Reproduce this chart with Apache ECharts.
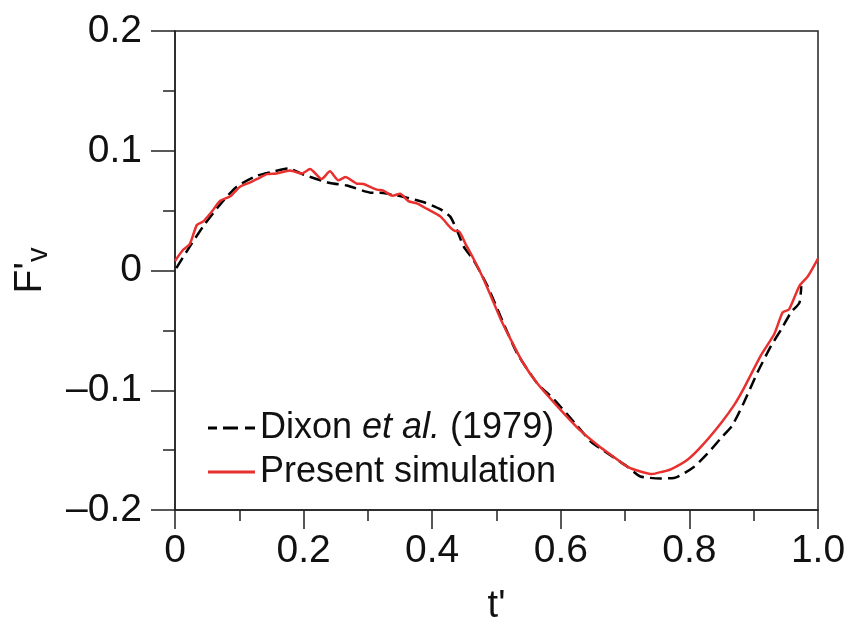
<!DOCTYPE html>
<html>
<head>
<meta charset="utf-8">
<script src="https://cdn.jsdelivr.net/npm/echarts@6/dist/echarts.min.js"></script>
<style>
  html, body { margin: 0; padding: 0; background: #fff; }
  #chart { width: 854px; height: 631px; }
</style>
</head>
<body>
<div id="chart"></div>
<script>
// Dixon et al. (1979) - dashed black
const tDixon = [0.002, 0.023, 0.044, 0.070, 0.096, 0.127, 0.148, 0.176, 0.200, 0.241,
  0.267, 0.304, 0.324, 0.356, 0.387, 0.413, 0.428, 0.439, 0.449, 0.465,
  0.486, 0.506, 0.532, 0.563, 0.589, 0.626, 0.647, 0.667, 0.704, 0.724,
  0.755, 0.776, 0.807, 0.828, 0.849, 0.866, 0.885, 0.906, 0.927, 0.943,
  0.958, 0.971, 0.974];
const fDixon = [0.002, 0.020, 0.037, 0.055, 0.070, 0.079, 0.082, 0.0853, 0.080, 0.073,
  0.071, 0.065, 0.0647, 0.0614, 0.057, 0.051, 0.045, 0.033, 0.020, 0.008,
  -0.013, -0.038, -0.069, -0.094, -0.1075, -0.130, -0.143, -0.1505, -0.164, -0.172,
  -0.1736, -0.1733, -0.164, -0.153, -0.140, -0.130, -0.110, -0.085, -0.063, -0.049,
  -0.035, -0.027, -0.013];

// Present simulation - red
const tSim = [0, 0.013, 0.023, 0.034, 0.044, 0.057, 0.070, 0.086, 0.101, 0.117,
  0.130, 0.143, 0.158, 0.179, 0.197, 0.210, 0.228, 0.241, 0.254, 0.265,
  0.283, 0.293, 0.314, 0.324, 0.338, 0.350, 0.363, 0.376, 0.392, 0.413,
  0.428, 0.436, 0.441, 0.452, 0.465, 0.478, 0.491, 0.506, 0.522, 0.540,
  0.563, 0.594, 0.631, 0.660, 0.678, 0.704, 0.725, 0.742, 0.758, 0.771,
  0.797, 0.820, 0.849, 0.870, 0.885, 0.911, 0.932, 0.945, 0.955, 0.971,
  0.984, 1.0];
const fSim = [0.008, 0.0175, 0.022, 0.038, 0.041, 0.049, 0.058, 0.062, 0.070, 0.0736,
  0.077, 0.0805, 0.081, 0.0836, 0.081, 0.0847, 0.0764, 0.0828, 0.0753, 0.078,
  0.0725, 0.0722, 0.0675, 0.0667, 0.0625, 0.064, 0.058, 0.056, 0.0514, 0.045,
  0.036, 0.033, 0.033, 0.022, 0.009, -0.005, -0.021, -0.040, -0.0575, -0.076,
  -0.094, -0.113, -0.134, -0.147, -0.154, -0.164, -0.168, -0.170, -0.168, -0.166,
  -0.158, -0.146, -0.1275, -0.112, -0.098, -0.071, -0.053, -0.035, -0.0325, -0.013,
  -0.005, 0.010];

const xTicks = [0, 0.2, 0.4, 0.6, 0.8, 1.0];
const yTicks = [-0.2, -0.1, 0, 0.1, 0.2];

const FONT = "Liberation Sans";
const AXIS_COLOR = "#222";
const RED = "#e8302e";

function zip(a, b) {
  return a.map((v, i) => [v, b[i]]);
}

const chart = echarts.init(document.getElementById("chart"));
chart.setOption({
  animation: false,
  backgroundColor: "#fff",
  grid: {
    left: 175,
    right: 36,
    top: 31,
    bottom: 120,
    show: true,
    borderColor: AXIS_COLOR,
    borderWidth: 1.5,
  },
  legend: {
    orient: "vertical",
    left: 203,
    top: 404,
    itemWidth: 47,
    itemHeight: 3,
    itemGap: 6,
    textStyle: {
      fontFamily: FONT,
      fontSize: 36,
      color: "#111",
      lineHeight: 38,
      rich: {
        n: { fontFamily: FONT, fontSize: 36, color: "#111" },
        i: { fontFamily: FONT, fontSize: 36, color: "#111", fontStyle: "italic" },
      },
    },
    formatter: function (name) {
      if (name === "Dixon") return "{n|Dixon }{i|et al.}{n| (1979)}";
      return "{n|" + name + "}";
    },
    data: [
      { name: "Dixon", icon: "path://M0,0h9v3h-9z M15,0h15v3h-15z M37,0h10v3h-10z" },
      { name: "Present simulation", icon: "path://M0,0h47v3h-47z" },
    ],
  },
  xAxis: {
    type: "value",
    min: 0,
    max: 1,
    interval: 0.2,
    name: "t'",
    nameLocation: "middle",
    nameGap: 78,
    nameTextStyle: { fontFamily: FONT, fontSize: 38, color: "#111" },
    axisLine: { show: true, onZero: false, lineStyle: { color: AXIS_COLOR, width: 1.5 } },
    axisTick: { show: true, length: 19, lineStyle: { color: AXIS_COLOR, width: 1.5 } },
    minorTick: { show: true, splitNumber: 2, length: 11, lineStyle: { color: AXIS_COLOR, width: 1.5 } },
    splitLine: { show: false },
    axisLabel: {
      margin: 22,
      fontFamily: FONT,
      fontSize: 39,
      color: "#111",
      formatter: function (v) {
        return v === 0 ? "0" : v.toFixed(1);
      },
    },
  },
  yAxis: {
    type: "value",
    min: -0.2,
    max: 0.2,
    interval: 0.1,
    name: "{f|F'}{s|v}",
    nameLocation: "middle",
    nameGap: 122,
    nameRotate: 90,
    nameTextStyle: {
      rich: {
        f: { fontFamily: FONT, fontSize: 39, color: "#111" },
        s: { fontFamily: FONT, fontSize: 29, color: "#111", padding: [16, 0, 0, 0] },
      },
    },
    axisLine: { show: true, onZero: false, lineStyle: { color: AXIS_COLOR, width: 1.5 } },
    axisTick: { show: true, length: 24, lineStyle: { color: AXIS_COLOR, width: 1.5 } },
    minorTick: { show: true, splitNumber: 2, length: 12, lineStyle: { color: AXIS_COLOR, width: 1.5 } },
    splitLine: { show: false },
    axisLabel: {
      margin: 33,
      fontFamily: FONT,
      fontSize: 39,
      color: "#111",
      formatter: function (v) {
        const r = Math.round(v * 10) / 10;
        if (r === 0) return "0";
        return (r < 0 ? "\u2013" : "") + Math.abs(r).toFixed(1);
      },
    },
  },
  series: [
    {
      name: "Dixon",
      type: "line",
      data: zip(tDixon, fDixon),
      symbol: "none",
      smooth: 0.2,
      lineStyle: { color: "#000", width: 2.5, type: [12, 6] },
      itemStyle: { color: "#000" },
      z: 2,
    },
    {
      name: "Present simulation",
      type: "line",
      data: zip(tSim, fSim),
      symbol: "none",
      smooth: 0.2,
      lineStyle: { color: RED, width: 2.5 },
      itemStyle: { color: RED },
      z: 3,
    },
  ],
});
</script>
</body>
</html>
